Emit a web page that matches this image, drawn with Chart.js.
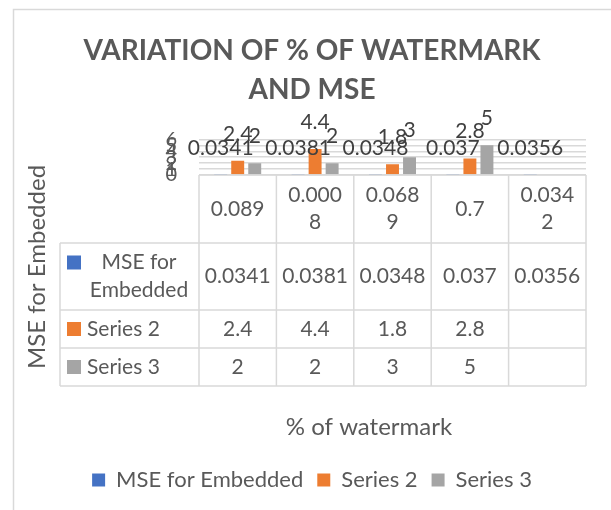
<!DOCTYPE html>
<html>
<head>
<meta charset="utf-8">
<script src="https://cdn.jsdelivr.net/npm/chart.js@4.4.1/dist/chart.umd.min.js"></script>
<style>
  html, body { margin: 0; padding: 0; background: #fff; }
  #wrap { width: 611px; height: 510px; }
</style>
</head>
<body>
<div id="wrap"><canvas id="chart" width="611" height="510"></canvas></div>
<script>
const categories = ["0.089", "0.0008", "0.0689", "0.7", "0.0342"];
const seriesNames = ["MSE for Embedded", "Series 2", "Series 3"];
const mseValues = [0.0341, 0.0381, 0.0348, 0.037, 0.0356];
const series2Values = [2.4, 4.4, 1.8, 2.8, null];
const series3Values = [2, 2, 3, 5, null];
const yMin = 0, yMax = 6, yStep = 1;

const colors = ["#4472c4", "#ed7d31", "#a5a5a5"];
const FONT = "Lato, 'Open Sans', sans-serif";
const TEXT = "#595959";
const LINE = "#d9d9d9";

/* wrap a label by characters so it fits a cell */
function wrapChars(ctx, text, maxW) {
  const lines = [];
  let cur = "";
  for (const ch of text) {
    if (cur && ctx.measureText(cur + ch).width > maxW) { lines.push(cur); cur = ch; }
    else cur += ch;
  }
  if (cur) lines.push(cur);
  return lines;
}
function wrapWords(ctx, text, maxW) {
  const lines = [];
  let cur = "";
  text.split(" ").forEach(w => {
    const t = cur ? cur + " " + w : w;
    if (cur && ctx.measureText(t).width > maxW) { lines.push(cur); cur = w; }
    else cur = t;
  });
  if (cur) lines.push(cur);
  return lines;
}

/* Background, frame and the data table under the plot */
const tablePlugin = {
  id: "dataTable",
  beforeDraw(chart) {
    const ctx = chart.ctx;
    ctx.save();
    ctx.fillStyle = "#fff";
    ctx.fillRect(0, 0, chart.width, chart.height);
    ctx.strokeStyle = LINE;
    ctx.lineWidth = 1.5;
    ctx.beginPath();
    ctx.moveTo(13.5, chart.height);
    ctx.lineTo(13.5, 9.5);
    ctx.lineTo(chart.width, 9.5);
    ctx.stroke();
    ctx.restore();
  },
  afterDraw(chart) {
    const { ctx, chartArea } = chart;
    const left = chartArea.left, right = chartArea.right;
    const colW = (right - left) / categories.length;
    const top = chartArea.bottom;
    const rows = [top, top + 68, top + 135, top + 173, top + 211];
    const labelLeft = 60;

    ctx.save();
    ctx.strokeStyle = LINE;
    ctx.lineWidth = 1.5;
    ctx.beginPath();
    ctx.moveTo(left, rows[0]); ctx.lineTo(right, rows[0]);
    for (let r = 1; r < rows.length; r++) {
      ctx.moveTo(labelLeft, rows[r]); ctx.lineTo(right, rows[r]);
    }
    ctx.moveTo(labelLeft, rows[1]); ctx.lineTo(labelLeft, rows[4]);
    for (let k = 0; k <= categories.length; k++) {
      const xx = left + k * colW;
      ctx.moveTo(xx, rows[0]); ctx.lineTo(xx, rows[4]);
    }
    ctx.stroke();

    ctx.font = "21px " + FONT;
    ctx.fillStyle = TEXT;
    ctx.textAlign = "center";
    ctx.textBaseline = "middle";

    // header row: category labels
    categories.forEach((c, i) => {
      const cx = left + (i + 0.5) * colW;
      const lines = wrapChars(ctx, c, colW - 16);
      const cy = (rows[0] + rows[1]) / 2;
      lines.forEach((ln, j) => {
        ctx.fillText(ln, cx, cy + (j - (lines.length - 1) / 2) * 27);
      });
    });

    // series rows
    const values = [mseValues, series2Values, series3Values];
    seriesNames.forEach((name, s) => {
      const cy = (rows[s + 1] + rows[s + 2]) / 2;
      const textL = 87, textR = left - 8;
      const lines = wrapWords(ctx, name, textR - textL);
      const lh = 28;
      const firstY = cy - (lines.length - 1) / 2 * lh;
      ctx.fillStyle = colors[s];
      ctx.fillRect(67, firstY - 7, 14, 14);
      ctx.fillStyle = TEXT;
      if (lines.length === 1) {
        ctx.textAlign = "left";
        ctx.fillText(name, textL, cy);
      } else {
        ctx.textAlign = "center";
        lines.forEach((ln, j) => ctx.fillText(ln, (textL + textR) / 2, firstY + j * lh));
      }
      ctx.textAlign = "center";
      values[s].forEach((v, i) => {
        if (v === null) return;
        ctx.fillText(String(v), left + (i + 0.5) * colW, cy);
      });
    });

    // axis titles
    ctx.font = "24px " + FONT;
    ctx.fillText("% of watermark", 369, 427);
    ctx.translate(37, 267);
    ctx.rotate(-Math.PI / 2);
    ctx.fillText("MSE for Embedded", 0, 0);
    ctx.restore();
  }
};

/* Value labels above each bar */
const barLabels = {
  id: "barLabels",
  afterDatasetsDraw(chart) {
    const ctx = chart.ctx;
    ctx.save();
    ctx.font = "21px " + FONT;
    ctx.fillStyle = "#404040";
    ctx.textAlign = "center";
    ctx.textBaseline = "alphabetic";
    chart.data.datasets.forEach((ds, d) => {
      chart.getDatasetMeta(d).data.forEach((bar, i) => {
        const v = ds.data[i];
        if (v === null || v === undefined) return;
        ctx.fillText(String(v), bar.x, bar.y - 20);
      });
    });
    ctx.restore();
  }
};

new Chart(document.getElementById("chart"), {
  type: "bar",
  data: {
    labels: categories,
    datasets: [
      { label: seriesNames[0], data: mseValues, backgroundColor: colors[0] },
      { label: seriesNames[1], data: series2Values, backgroundColor: colors[1] },
      { label: seriesNames[2], data: series3Values, backgroundColor: colors[2] }
    ]
  },
  options: {
    responsive: false,
    animation: false,
    devicePixelRatio: 1,
    categoryPercentage: 0.66,
    barPercentage: 0.76,
    layout: { padding: { left: 13, right: 0, top: 0, bottom: 9 } },
    plugins: {
      title: {
        display: true,
        text: ["VARIATION OF % OF WATERMARK", "AND MSE"],
        color: TEXT,
        font: { family: FONT, size: 28, weight: "bold", lineHeight: 1.4 },
        padding: { top: 31, bottom: 30 }
      },
      legend: {
        position: "bottom",
        labels: {
          color: TEXT,
          boxWidth: 13,
          boxHeight: 13,
          padding: 14,
          font: { family: FONT, size: 22 }
        }
      },
      tooltip: { enabled: false }
    },
    scales: {
      x: {
        ticks: { display: false },
        grid: { display: false },
        border: { display: false },
        afterFit(scale) { scale.height = 280; }
      },
      y: {
        min: yMin,
        max: yMax,
        ticks: {
          stepSize: yStep,
          autoSkip: false,
          color: TEXT,
          padding: 22,
          font: { family: FONT, size: 20 }
        },
        grid: { color: LINE, lineWidth: 1.5, drawTicks: false },
        border: { display: false },
        afterFit(scale) { scale.width = 186; }
      },
      yPad: {
        position: "right",
        ticks: { display: false },
        grid: { display: false },
        border: { display: false },
        afterFit(scale) { scale.width = 25; }
      }
    }
  },
  plugins: [tablePlugin, barLabels]
});
</script>
</body>
</html>
